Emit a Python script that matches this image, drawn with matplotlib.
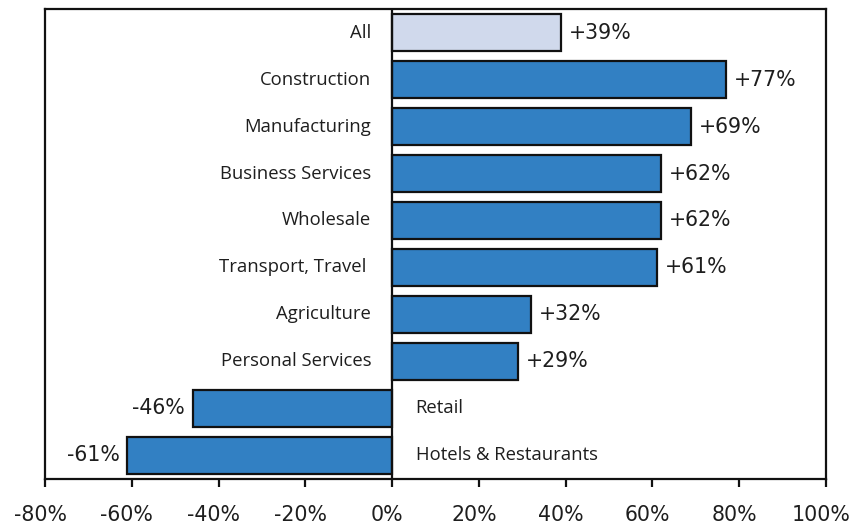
import matplotlib
matplotlib.use("Agg")
import matplotlib.pyplot as plt
from matplotlib.ticker import FuncFormatter
from matplotlib.transforms import ScaledTranslation

categories = ["All", "Construction", "Manufacturing", "Business Services", "Wholesale",
              "Transport, Travel ", "Agriculture", "Personal Services", "Retail",
              "Hotels & Restaurants"]
values = [39, 77, 69, 62, 62, 61, 32, 29, -46, -61]
xticks = [-80, -60, -40, -20, 0, 20, 40, 60, 80, 100]

plt.rcParams["font.family"] = ["Open Sans", "DejaVu Sans"]
num_font = ["DejaVu Sans"]

fig = plt.figure(figsize=(8.53, 5.31), dpi=100)
ax = fig.add_axes([0.0528, 0.098, 0.9155, 0.885])

blue = "#3280c3"
light = "#d0d9ec"
ink = "#1e1e1e"
colors = [light] + [blue] * (len(values) - 1)
pos = list(range(len(values)))

ax.barh(pos, values, height=0.79, color=colors, edgecolor="#111111", linewidth=1.6, zorder=2)
ax.axvline(0, color="#111111", linewidth=1.6, zorder=3)

cat_fs = 13.3
num_fs = 14.8
for y, (cat, v) in enumerate(zip(categories, values)):
    if v >= 0:
        ax.annotate(cat, (0, y), xytext=(-15, 0), textcoords="offset points",
                    ha="right", va="center", fontsize=cat_fs, color=ink)
        ax.annotate(f"+{v}%", (v, y), xytext=(5.5, 0), textcoords="offset points",
                    ha="left", va="center", fontsize=num_fs, color=ink, family=num_font)
    else:
        ax.annotate(cat, (0, y), xytext=(17, 0), textcoords="offset points",
                    ha="left", va="center", fontsize=cat_fs, color=ink)
        ax.annotate(f"{v}%", (v, y), xytext=(-5.5, 0), textcoords="offset points",
                    ha="right", va="center", fontsize=num_fs, color=ink, family=num_font)

ax.set_xlim(-80, 100)
ax.set_ylim(len(values) - 0.5, -0.5)
ax.set_xticks(xticks)
ax.xaxis.set_major_formatter(FuncFormatter(lambda x, _: f"{x:.0f}%"))
ax.set_yticks([])
ax.tick_params(axis="x", direction="out", length=6, width=1.6, pad=13,
               labelsize=num_fs, colors="#111111", labelcolor=ink)
# nudge tick labels slightly left so the last one stays inside the figure
shift = ScaledTranslation(-5 / 100, 0, fig.dpi_scale_trans)
for lbl in ax.get_xticklabels():
    lbl.set_family(num_font)
    lbl.set_transform(lbl.get_transform() + shift)
for s in ax.spines.values():
    s.set_linewidth(1.6)
    s.set_color("#111111")

fig.savefig("out.png", dpi=100)
